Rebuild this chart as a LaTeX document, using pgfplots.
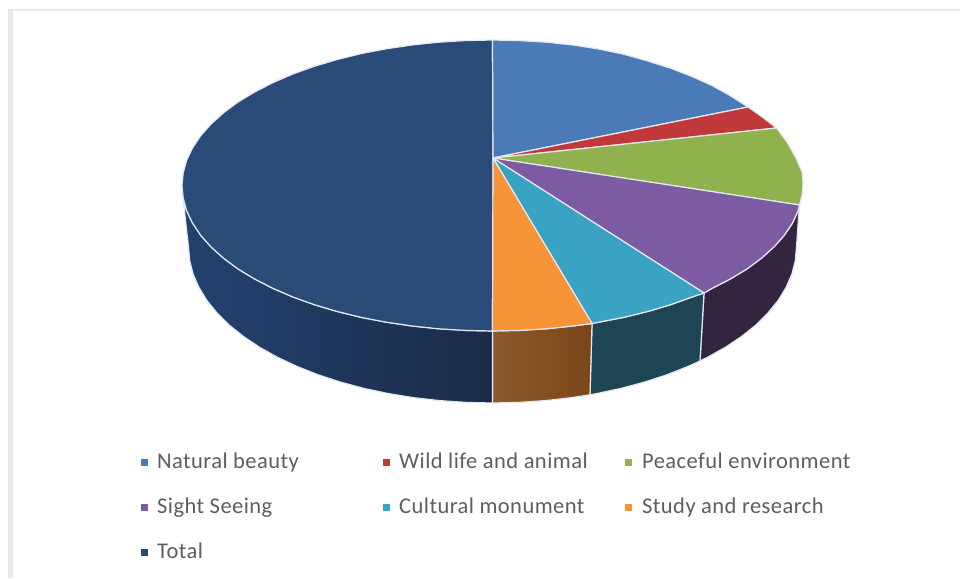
\documentclass[border=0pt]{standalone}
\usepackage{pgfplots}
\usepackage{fontspec}
\setmainfont{Carlito}[LetterSpace=2]
\pgfplotsset{compat=1.18}
\definecolor{cNat}{HTML}{4A7AB8}
\definecolor{cRed}{HTML}{C0393A}
\definecolor{cGrn}{HTML}{8FB24F}
\definecolor{cPur}{HTML}{7C5BA2}
\definecolor{cCya}{HTML}{3AA3C4}
\definecolor{cOra}{HTML}{F79438}
\definecolor{cNav}{HTML}{2A4A78}
\definecolor{sPur}{HTML}{33243F}
\definecolor{sCya}{HTML}{1D4553}
\definecolor{sOraA}{HTML}{8F5A2A}
\definecolor{sOraB}{HTML}{7A4518}
\definecolor{sNavA}{HTML}{234270}
\definecolor{sNavB}{HTML}{1A2B48}
\definecolor{edge}{HTML}{E4E8F0}
\definecolor{txt}{HTML}{5E5E5E}
\definecolor{frame}{HTML}{E8E8E8}
\begin{document}
\begin{tikzpicture}
\begin{axis}[
  scale only axis, width=960pt, height=578pt,
  xmin=0, xmax=960, ymin=0, ymax=578, y dir=reverse,
  axis lines=none, clip=false,
  every axis plot/.append style={line join=round}
]
% page extent
\addplot[fill=white, draw=none] coordinates {(0,0)(960,0)(960,578)(0,578)(0,0)};
% page frame
\addplot[fill=frame, draw=none] coordinates {(8,9)(960,9)(960,11)(13,11)(13,578)(8,578)(8,9)};
% side walls
\addplot[fill=sPur, draw=edge, line width=1.2pt] coordinates {
(799.5,205)(798,211)(792.4,223.2)(784.3,235.3)(773.9,247)(761.4,258.25)(746.9,269)(730.3,279)(712,288.4)(704,293)
(700,361)(707.5,357.3)(725.4,347.3)(741.5,336.5)(755.8,325.1)(768,312.9)(778.2,300.4)(786.1,287.4)(791.9,274.1)(795.3,260.6)(796.5,247)(798,225)(799.5,205)};
\addplot[fill=sCya, draw=edge, line width=1.2pt] coordinates {
(704,293)(692.1,297)(670.6,304.7)(647.75,311.5)(623.7,317.4)(598.7,322.2)(592,323.5)
(590,394.8)(596.5,393.6)(621,388.4)(644.5,382.1)(666.9,374.8)(687.9,366.5)(700,361)(704,293)};
\addplot[left color=sOraA, right color=sOraB, draw=edge, line width=1.2pt] coordinates {
(592,323.5)(572.9,326)(546.4,328.8)(519.6,330.4)(492.5,331)
(492.5,403)(519,402.4)(545.3,400.6)(571.2,397.7)(590,394.8)(592,323.5)};
\addplot[left color=sNavA, right color=sNavB, draw=edge, line width=1.2pt] coordinates {
(492.5,331)(465.4,330.4)(438.6,328.8)(412.1,326)(386.3,322.2)(361.3,317.4)(337.25,311.5)(314.4,304.7)(292.9,297)(273,288.4)(254.7,279)(238.1,269)(223.6,258.25)(211.1,247)(200.7,235.3)(192.6,223.2)(186.7,210.8)(183.2,198.2)
(186,225)(188.5,247)(189.7,260.6)(193.1,274.1)(198.9,287.4)(206.8,300.4)(217,312.9)(229.2,325.1)(243.5,336.5)(259.6,347.3)(277.5,357.3)(297.1,366.5)(318.1,374.8)(340.5,382.1)(364,388.4)(388.5,393.6)(413.8,397.7)(439.7,400.6)(466,402.4)(492.5,403)(492.5,331)};
% top slices
\addplot[fill=cNav, draw=edge, line width=1.2pt] coordinates {
(493,158)(492.5,331)(465.4,330.4)(438.6,328.8)(412.1,326)(386.3,322.2)(361.3,317.4)(337.25,311.5)(314.4,304.7)(292.9,297)(273,288.4)(254.7,279)(238.1,269)(223.6,258.25)(211.1,247)(200.7,235.3)(192.6,223.2)(186.7,210.8)(183.2,198.2)(182,185.5)(183.2,172.8)(186.7,160.2)(192.6,147.8)(200.7,135.7)(211.1,124)(223.6,112.75)(238.1,102)(254.7,92)(273,82.6)(292.9,74)(314.4,66.3)(337.25,59.5)(361.3,53.6)(386.3,48.8)(412.1,45)(438.6,42.2)(465.4,40.6)(492.5,40)(493,158)};
\addplot[fill=cNat, draw=edge, line width=1.2pt] coordinates {
(493,158)(492.5,40)(519.6,40.6)(546.4,42.2)(572.9,45)(598.7,49)(623.7,54.2)(647.75,61)(670.6,68.2)(692,76.5)(712,85.5)(730,95.5)(748,107)(493,158)};
\addplot[fill=cRed, draw=edge, line width=1.2pt] coordinates {
(493,158)(748,107)(763,117.5)(776.5,128)(493,158)};
\addplot[fill=cGrn, draw=edge, line width=1.2pt] coordinates {
(493,158)(776.5,128)(787,142)(796,158)(802,172)(803,183)(802,195)(799.5,205)(493,158)};
\addplot[fill=cPur, draw=edge, line width=1.2pt] coordinates {
(493,158)(799.5,205)(798,211)(792.4,223.2)(784.3,235.3)(773.9,247)(761.4,258.25)(746.9,269)(730.3,279)(712,288.4)(704,293)(493,158)};
\addplot[fill=cCya, draw=edge, line width=1.2pt] coordinates {
(493,158)(704,293)(692.1,297)(670.6,304.7)(647.75,311.5)(623.7,317.4)(598.7,322.2)(592,323.5)(493,158)};
\addplot[fill=cOra, draw=edge, line width=1.2pt] coordinates {
(493,158)(592,323.5)(572.9,326)(546.4,328.8)(519.6,330.4)(492.5,331)(493,158)};
% legend keys
\addplot[only marks, mark=square*, mark size=3pt, mark options={draw=cNat, fill=cNat}] coordinates {(144,462)};
\addplot[only marks, mark=square*, mark size=3pt, mark options={draw=cRed, fill=cRed}] coordinates {(386,462)};
\addplot[only marks, mark=square*, mark size=3pt, mark options={draw=cGrn, fill=cGrn}] coordinates {(628,462)};
\addplot[only marks, mark=square*, mark size=3pt, mark options={draw=cPur, fill=cPur}] coordinates {(144,507)};
\addplot[only marks, mark=square*, mark size=3pt, mark options={draw=cCya, fill=cCya}] coordinates {(386,507)};
\addplot[only marks, mark=square*, mark size=3pt, mark options={draw=cOra, fill=cOra}] coordinates {(628,507)};
\addplot[only marks, mark=square*, mark size=3pt, mark options={draw=cNav, fill=cNav}] coordinates {(144,552)};
\tikzset{lab/.style={anchor=base west, inner sep=0pt, text=txt, font=\fontsize{22.5}{26}\selectfont}}
\node[lab] at (axis cs:157,468.5) {Natural beauty};
\node[lab] at (axis cs:399,468.5) {Wild life and animal};
\node[lab] at (axis cs:642,468.5) {Peaceful environment};
\node[lab] at (axis cs:157,513.5) {Sight Seeing};
\node[lab] at (axis cs:399,513.5) {Cultural monument};
\node[lab] at (axis cs:642,513.5) {Study and research};
\node[lab] at (axis cs:157,558.5) {Total};
\end{axis}
\end{tikzpicture}
\end{document}
